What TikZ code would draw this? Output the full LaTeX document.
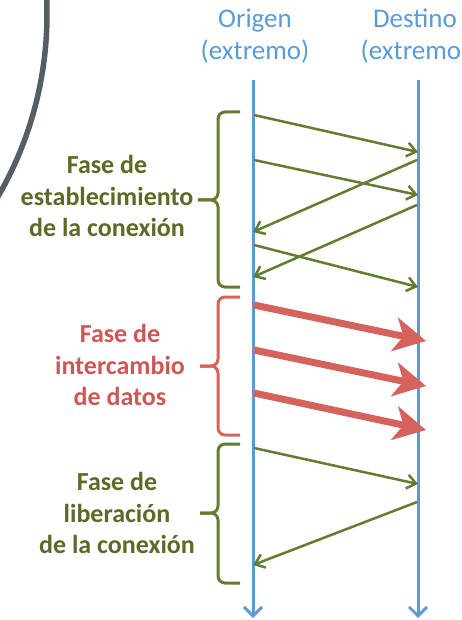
\documentclass[tikz,border=0pt]{standalone}
\usepackage{fontspec}
\setmainfont{Carlito}
\usetikzlibrary{arrows.meta}
\definecolor{lineblue}{RGB}{91,155,213}
\definecolor{arrgreen}{RGB}{100,124,50}
\definecolor{txtgreen}{RGB}{92,106,38}
\definecolor{arrred}{RGB}{214,98,92}
\definecolor{txtred}{RGB}{208,86,86}
\definecolor{arcgray}{RGB}{84,94,99}
\begin{document}
\begin{tikzpicture}[x=1pt,y=-1pt,
  timeline/.style={draw=lineblue, line width=3pt, -{Straight Barb[length=9pt,width=18pt]}},
  ctrl/.style={draw=arrgreen, line width=2.5pt, -{Straight Barb[length=9pt,width=14pt]}},
  data/.style={draw=arrred, line width=7pt, -{Stealth[length=32pt,width=34pt,inset=9pt]}},
  gbrace/.style={draw=arrgreen, line width=3pt, rounded corners=7pt},
  rbrace/.style={draw=arrred, line width=3pt, rounded corners=7pt},
  title/.style={text=lineblue, font=\fontsize{27}{32}\selectfont, align=center, inner sep=0pt},
  phase/.style={font=\bfseries\fontsize{26}{31.5}\selectfont, align=center, inner sep=0pt}]
\useasboundingbox (0,0) rectangle (462,620);
\clip (0,0) rectangle (462,620);
% background arc
\draw[arcgray, line width=5.5pt] (-317,14) circle[radius=364];
% titles
\node[title] (torig) at (255,36) {Origen\\(extremo)};
\node[title] (tdest) at (415,36) {Destino\\(extremo)};
% timelines
\coordinate (otop) at (253,80);
\coordinate (obot) at (253,618);
\coordinate (dtop) at (418,80);
\coordinate (dbot) at (418,618);
\draw[timeline] (otop) -- (obot);
\draw[timeline] (dtop) -- (dbot);
% phase 1: establishment
\coordinate (a1s) at (254,115); \coordinate (a1e) at (418,152);
\coordinate (a2s) at (254,160); \coordinate (a2e) at (418,195);
\coordinate (a3s) at (417,160); \coordinate (a3e) at (253,232);
\coordinate (a4s) at (417,205); \coordinate (a4e) at (253,277);
\coordinate (a5s) at (254,245); \coordinate (a5e) at (418,287);
\draw[ctrl] (a1s) -- (a1e);
\draw[ctrl] (a2s) -- (a2e);
\draw[ctrl] (a3s) -- (a3e);
\draw[ctrl] (a4s) -- (a4e);
\draw[ctrl] (a5s) -- (a5e);
% phase 2: data
\coordinate (d1s) at (254,305); \coordinate (d1e) at (426,341);
\coordinate (d2s) at (254,350); \coordinate (d2e) at (426,386);
\coordinate (d3s) at (254,393); \coordinate (d3e) at (426,430);
\draw[data] (d1s) -- (d1e);
\draw[data] (d2s) -- (d2e);
\draw[data] (d3s) -- (d3e);
% phase 3: release
\coordinate (r1s) at (254,448); \coordinate (r1e) at (418,484);
\coordinate (r2s) at (417,502); \coordinate (r2e) at (253,565);
\draw[ctrl] (r1s) -- (r1e);
\draw[ctrl] (r2s) -- (r2e);
% braces
\draw[gbrace] (240,112) -| (218,200) -- (198,200);
\draw[gbrace] (240,287) -| (218,200) -- (198,200);
\draw[rbrace] (240,297) -| (218,366) -- (200,366);
\draw[rbrace] (240,435) -| (218,366) -- (200,366);
\draw[gbrace] (240,444) -| (218,513) -- (200,513);
\draw[gbrace] (240,583) -| (218,513) -- (200,513);
% labels
\node[phase, text=txtgreen] (p1) at (107,196) {Fase de\\establecimiento\\de la conexión};
\node[phase, text=txtred] (p2) at (120,365) {Fase de\\intercambio\\de datos};
\node[phase, text=txtgreen] (p3) at (117,513) {Fase de\\liberación\\de la conexión};
\end{tikzpicture}
\end{document}
